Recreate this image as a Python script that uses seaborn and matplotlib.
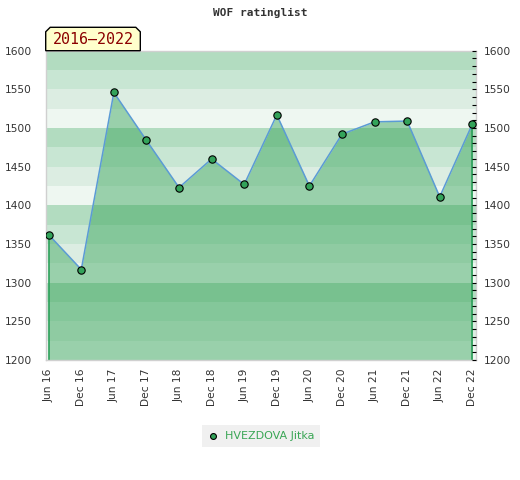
import numpy as np
import pandas as pd
import seaborn as sns
import matplotlib.pyplot as plt
from matplotlib.patches import Polygon
from matplotlib.ticker import MultipleLocator

# rating history
periods = ['Jun 16', 'Dec 16', 'Jun 17', 'Dec 17', 'Jun 18', 'Dec 18', 'Jun 19',
           'Dec 19', 'Jun 20', 'Dec 20', 'Jun 21', 'Dec 21', 'Jun 22', 'Dec 22']
ratings = [1362, 1317, 1546, 1484, 1423, 1460, 1427,
           1517, 1425, 1492, 1508, 1509, 1411, 1505]
player = 'HVEZDOVA Jitka'
title = 'WOF ratinglist'
span_label = '2016\u20132022'
y_ticks = [1200, 1250, 1300, 1350, 1400, 1450, 1500, 1550, 1600]

df = pd.DataFrame({'pos': np.arange(len(periods)), 'rating': ratings})

sns.set_style('white')
plt.rcParams['font.family'] = ['DejaVu Sans']

W, H = 520, 480
fig = plt.figure(figsize=(W / 100, H / 100), dpi=100)
ax = fig.add_axes([45.7 / W, 1 - 360 / H, 430 / W, 309.3 / H])

ymin, ymax = y_ticks[0], y_ticks[-1]
band_cols = ['#eef7f1', '#dcede2', '#c8e6d3', '#b2dcc0']
for b in range(ymin, ymax, 25):
    ax.axhspan(b, b + 25, color=band_cols[(b % 100) // 25], lw=0, zorder=0)

ax.fill_between(df['pos'], ymin, df['rating'], color='#2ea052', alpha=0.44, lw=0, zorder=1)
ax.vlines([df['pos'].iloc[0], df['pos'].iloc[-1]], ymin,
          [df['rating'].iloc[0], df['rating'].iloc[-1]], color='#2ca05a', lw=1.2, zorder=2)
sns.lineplot(data=df, x='pos', y='rating', ax=ax, color='#5b9bd5', lw=1.1, zorder=3, legend=False)
sns.scatterplot(data=df, x='pos', y='rating', ax=ax, color='#33a35a', edgecolor='black',
                linewidth=0.8, s=28, zorder=4, label=player)

ax.set_xlim(-0.092, len(periods) - 1 + 0.104)
ax.set_ylim(ymin, ymax)
ax.set_xticks(df['pos'])
ax.set_xticklabels(periods, rotation=90, fontsize=7.7, color='#333333')
ax.set_yticks(y_ticks)
ax.set_yticklabels(y_ticks, fontsize=7.7, color='#333333')
ax.tick_params(axis='x', length=0, pad=6)
ax.tick_params(axis='y', length=0, pad=10)
ax.set_xlabel('')
ax.set_ylabel('')
for s in ax.spines.values():
    s.set_color('#d0d0d0')
    s.set_linewidth(1)

ax2 = ax.twinx()
ax2.set_ylim(ymin, ymax)
ax2.set_yticks(y_ticks)
ax2.set_yticklabels(y_ticks, fontsize=7.7, color='#333333')
ax2.yaxis.set_minor_locator(MultipleLocator(10))
ax2.tick_params(axis='y', which='both', direction='in', length=3, width=0.8, color='black', pad=6)
for s in ax2.spines.values():
    s.set_visible(False)

fig.text(0.5, 1 - 13 / H, title, ha='center', va='center', fontsize=8,
         family='DejaVu Sans Mono', weight='bold', color='#333333')

# period tag above the plot
bx0, bx1, by0, by1, c = 45.7, 140.3, 27.3, 50.7, 4.5
pts = [(bx0, by1), (bx0, by0 + c), (bx0 + c, by0), (bx1 - c, by0), (bx1, by0 + c), (bx1, by1)]
tag = Polygon([(x / W, 1 - y / H) for x, y in pts], closed=True, transform=fig.transFigure,
              facecolor='#ffffcc', edgecolor='black', lw=1, zorder=5)
fig.patches.append(tag)
fig.text((bx0 + bx1) / 2 / W, 1 - 40 / H, span_label, ha='center', va='center', fontsize=10.8,
         family='DejaVu Sans Mono', color='#8b0000', zorder=6)

leg = ax.legend(loc='center', bbox_to_anchor=(261 / W, 1 - 436 / H), bbox_transform=fig.transFigure,
                frameon=True, fancybox=False, facecolor='#f0f0f0', edgecolor='none',
                fontsize=8, handlelength=1.0, handletextpad=0.6, borderpad=0.5,
                borderaxespad=0, markerscale=0.8)
leg.get_frame().set_alpha(1)
for t in leg.get_texts():
    t.set_color('#3aa655')

fig.savefig('out.png', dpi=100)
